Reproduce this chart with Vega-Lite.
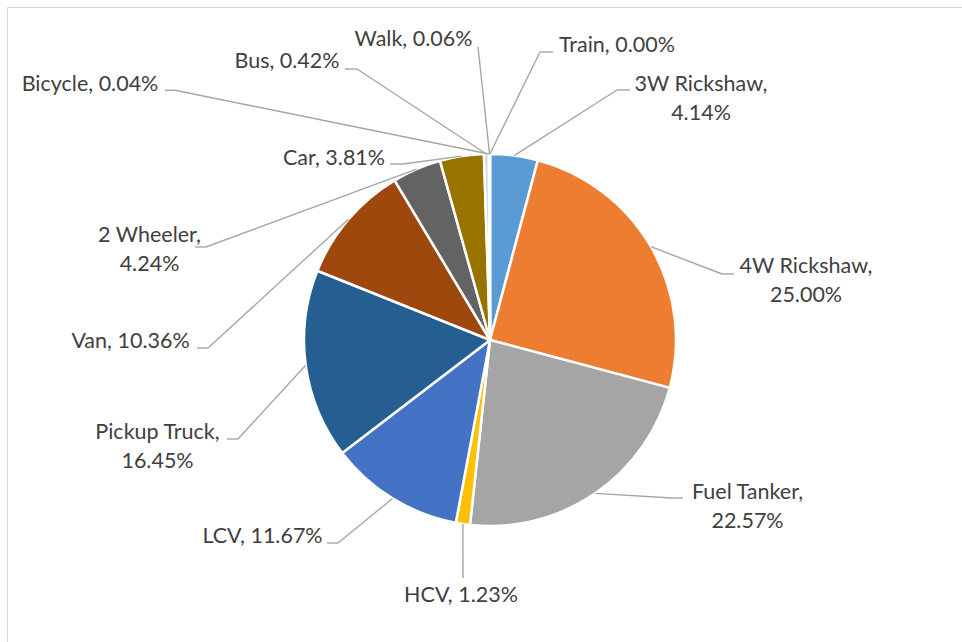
{
  "$schema": "https://vega.github.io/schema/vega-lite/v6.json",
  "width": 955,
  "height": 635,
  "autosize": {"type": "none"},
  "padding": {"left": 7, "top": 7, "right": 0, "bottom": 0},
  "background": "white",
  "config": {"view": {"stroke": "#D9D9D9", "strokeWidth": 1}},
  "data": {
    "values": [
      {"i": 1, "cat": "3W Rickshaw", "v": 4.14, "lab": ["3W Rickshaw,", "4.14%"], "tx": 113.44, "ty": 133.87, "sx": 12.97, "sy": 99.16, "ex": 68.28, "ey": 134.41, "hx": 75.27},
      {"i": 2, "cat": "4W Rickshaw", "v": 25.00, "lab": ["4W Rickshaw,", "25.00%"], "tx": 169.89, "ty": 36.02, "sx": 86.51, "sy": 50.15, "ex": 124.73, "ey": 35.48, "hx": 131.18},
      {"i": 3, "cat": "Fuel Tanker", "v": 22.57, "lab": ["Fuel Tanker,", "22.57%"], "tx": 138.44, "ty": -85.48, "sx": 56.60, "sy": -82.44, "ex": 97.85, "ey": -84.95, "hx": 103.76},
      {"i": 4, "cat": "HCV", "v": 1.23, "lab": ["HCV, 1.23%"], "tx": -15.59, "ty": -140.86, "sx": -14.56, "sy": -98.93, "ex": -14.52, "ey": -127.96, "hx": -14.52},
      {"i": 5, "cat": "LCV", "v": 11.67, "lab": ["LCV, 11.67%"], "tx": -122.31, "ty": -109.14, "sx": -52.38, "sy": -85.18, "ex": -81.72, "ey": -109.14, "hx": -87.63},
      {"i": 6, "cat": "Pickup Truck", "v": 16.45, "lab": ["Pickup Truck,", "16.45%"], "tx": -178.76, "ty": -53.23, "sx": -99.08, "sy": -13.55, "ex": -135.48, "ey": -53.23, "hx": -141.40},
      {"i": 7, "cat": "Van", "v": 10.36, "lab": ["Van, 10.36%"], "tx": -193.28, "ty": -4.30, "sx": -76.11, "sy": 64.87, "ex": -151.61, "ey": -4.30, "hx": -157.53},
      {"i": 8, "cat": "2 Wheeler", "v": 4.24, "lab": ["2 Wheeler,", "4.24%"], "tx": -183.06, "ty": 52.69, "sx": -39.49, "sy": 91.87, "ex": -152.69, "ey": 50.00, "hx": -158.60},
      {"i": 9, "cat": "Car", "v": 3.81, "lab": ["Car, 3.81%"], "tx": -83.87, "ty": 94.09, "sx": -15.24, "sy": 98.83, "ex": -46.77, "ey": 94.62, "hx": -53.76},
      {"i": 10, "cat": "Bus", "v": 0.42, "lab": ["Bus, 0.42%"], "tx": -109.14, "ty": 146.24, "sx": -2.01, "sy": 99.98, "ex": -71.51, "ey": 145.70, "hx": -77.96},
      {"i": 11, "cat": "Bicycle", "v": 0.04, "lab": ["Bicycle, 0.04%"], "tx": -215.05, "ty": 134.03, "sx": -0.57, "sy": 100.0, "ex": -169.35, "ey": 134.25, "hx": -174.73},
      {"i": 12, "cat": "Walk", "v": 0.06, "lab": ["Walk, 0.06%"], "tx": -41.13, "ty": 158.06, "sx": -0.25, "sy": 100.0, "ex": -6.45, "ey": 157.53, "hx": -6.45},
      {"i": 13, "cat": "Train", "v": 0.00, "lab": ["Train, 0.00%"], "tx": 68.28, "ty": 154.84, "sx": -0.06, "sy": 100.0, "ex": 26.88, "ey": 154.84, "hx": 33.87}
    ]
  },
  "layer": [
    {
      "mark": {"type": "arc", "radius": 186, "stroke": "white", "strokeWidth": 2.5},
      "encoding": {
        "x": {"datum": 0, "type": "quantitative", "scale": {"domain": [-259.68, 253.76], "nice": false, "zero": false}, "axis": null},
        "y": {"datum": 0, "type": "quantitative", "scale": {"domain": [-162.37, 179.03], "nice": false, "zero": false}, "axis": null},
        "theta": {"field": "v", "type": "quantitative", "stack": true},
        "order": {"field": "i", "type": "quantitative"},
        "color": {
          "field": "cat", "type": "nominal", "legend": null,
          "scale": {
            "domain": ["3W Rickshaw", "4W Rickshaw", "Fuel Tanker", "HCV", "LCV", "Pickup Truck", "Van", "2 Wheeler", "Car", "Bus", "Bicycle", "Walk", "Train"],
            "range": ["#5B9BD5", "#ED7D31", "#A5A5A5", "#FFC000", "#4472C4", "#255E91", "#9E480E", "#636363", "#997300", "#C9D6E6", "#D0DCEB", "#D0DCEB", "#D0DCEB"]
          }
        }
      }
    },
    {
      "mark": {"type": "rule", "color": "#A6A6A6", "strokeWidth": 1.4},
      "encoding": {
        "x": {"field": "sx", "type": "quantitative"},
        "y": {"field": "sy", "type": "quantitative"},
        "x2": {"field": "ex"},
        "y2": {"field": "ey"}
      }
    },
    {
      "mark": {"type": "rule", "color": "#A6A6A6", "strokeWidth": 1.4},
      "encoding": {
        "x": {"field": "ex", "type": "quantitative"},
        "y": {"field": "ey", "type": "quantitative"},
        "x2": {"field": "hx"},
        "y2": {"field": "ey"}
      }
    },
    {
      "mark": {"type": "text", "align": "center", "baseline": "alphabetic", "font": "Lato", "fontSize": 21.5, "lineHeight": 29, "color": "#404040"},
      "encoding": {
        "x": {"field": "tx", "type": "quantitative"},
        "y": {"field": "ty", "type": "quantitative"},
        "text": {"field": "lab"}
      }
    }
  ]
}
